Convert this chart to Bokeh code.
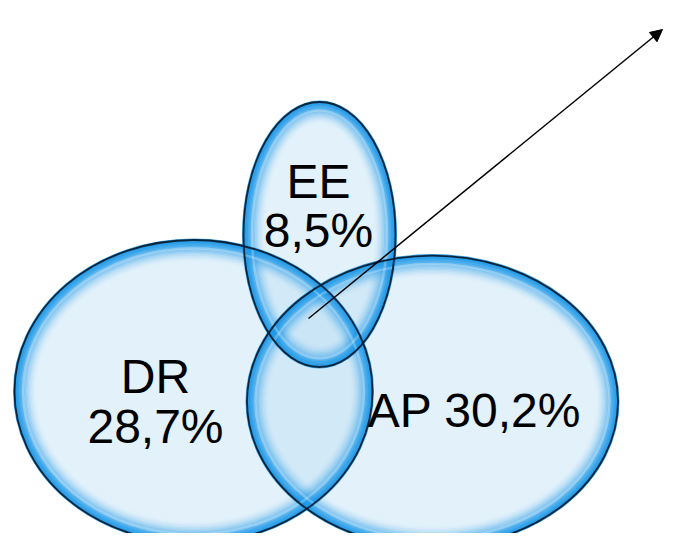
from bokeh.plotting import figure
from bokeh.models import Range1d, Arrow, NormalHead, ColumnDataSource
from bokeh.core.properties import value
from bokeh.embed import file_html
from bokeh.resources import INLINE

# ---- data ----
sets = ["DR", "AP", "EE"]
percent = [28.7, 30.2, 8.5]

# ---- layout (reference pixel space) ----
cx = [193, 432, 319]
cy = [391, 401, 234]
ew = [358, 371, 152]
eh = [303, 292, 265]

p = figure(width=666, height=533, output_backend="svg", toolbar_location=None,
           x_range=Range1d(0, 666), y_range=Range1d(533, 0), min_border=0)
p.axis.visible = False
p.grid.visible = False
p.outline_line_color = None
p.background_fill_color = "white"
p.border_fill_color = "white"

src = ColumnDataSource(dict(x=cx, y=cy, w=ew, h=eh))

# base translucent fill
p.ellipse(x="x", y="y", width="w", height="h", source=src,
          fill_color="#BFDFF5", fill_alpha=0.45, line_color=None)

# glossy rim: nested rings fading inward
n = 16
for k in range(n):
    s = 2.8 * k
    ds = ColumnDataSource(dict(x=cx, y=cy, w=[v - s for v in ew], h=[v - s for v in eh]))
    a = 0.85 * (1 - k / n) ** 2.0
    p.ellipse(x="x", y="y", width="w", height="h", source=ds,
              fill_color=None, line_color="#1C98E8", line_width=3, line_alpha=a)

# white highlight streak
hs = ColumnDataSource(dict(x=cx, y=cy, w=[v - 17 for v in ew], h=[v - 17 for v in eh]))
p.ellipse(x="x", y="y", width="w", height="h", source=hs,
          fill_color=None, line_color="white", line_width=2.5, line_alpha=0.25)

# dark outline
p.ellipse(x="x", y="y", width="w", height="h", source=src,
          fill_color=None, line_color="#0A1E30", line_width=1.8, line_alpha=0.95)

def fmt(v):
    return f"{v:.1f}".replace(".", ",") + "%"

font = value("Liberation Sans")
fs = "48px"
dy = -17
# DR
p.text(x=[155, 155], y=[393 + dy, 443 + dy], text=[sets[0], fmt(percent[0])],
       text_font=font, text_font_size=fs, text_align="center",
       text_baseline="alphabetic", text_color="black")
# EE
p.text(x=[318, 318], y=[198 + dy, 247 + dy], text=[sets[2], fmt(percent[2])],
       text_font=font, text_font_size=fs, text_align="center",
       text_baseline="alphabetic", text_color="black")
# AP
p.text(x=[474], y=[427 + dy], text=[sets[1] + " " + fmt(percent[1])],
       text_font=font, text_font_size=fs, text_align="center",
       text_baseline="alphabetic", text_color="black")

p.add_layout(Arrow(end=NormalHead(size=12, fill_color="black", line_color="black"),
                   x_start=308, y_start=318, x_end=662, y_end=29,
                   line_color="black", line_width=1.5))

open("out.html", "w").write(file_html(p, INLINE))
